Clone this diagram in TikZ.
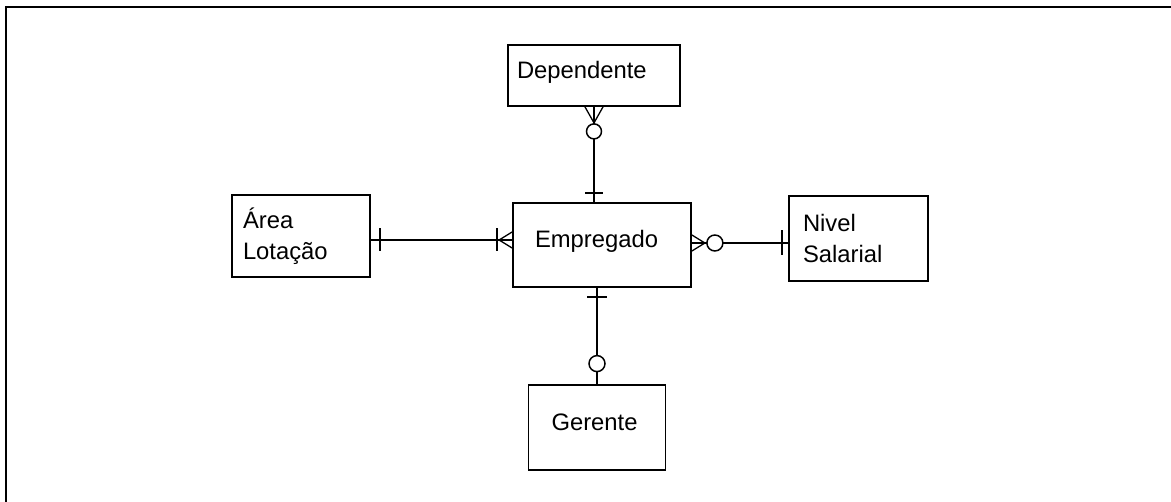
\documentclass[tikz,border=0pt]{standalone}
\usepackage{fontspec}
\setmainfont{Liberation Sans}
\usetikzlibrary{calc}
\begin{document}
\begin{tikzpicture}[x=1pt,y=-1pt,
  entity/.style={draw,line width=1.8pt,inner sep=0pt,align=left,
    font=\fontsize{23.8}{31}\selectfont},
  solo/.style={text height=14pt,text depth=8pt},
  rel/.style={line width=1.8pt},
  bar/.style={line width=1.8pt},
  foot/.style={line width=1.3pt},
  ring/.style={line width=1.5pt,fill=white}]
\useasboundingbox (0,0) rectangle (1171,502);
% page frame (top and left edges)
\draw[line width=2.6pt] (6,502) -- (6,7) -- (1171,7);

% entities
\node[entity,solo,minimum width=172pt,minimum height=61pt,text width=154pt] (dep) at (594,75.5) {Dependente};
\node[entity,solo,minimum width=178pt,minimum height=84pt,text width=134pt] (emp) at (602,245) {Empregado};
\node[entity,minimum width=138pt,minimum height=82pt,text width=116pt] (area) at (301,236) {Área\\Lotação};
\node[entity,minimum width=139pt,minimum height=85pt,text width=111pt] (nivel) at (858.5,238.5) {Nivel\\Salarial};
\node[entity,solo,minimum width=137pt,minimum height=85pt,text width=91pt] (ger) at (597,427.5) {Gerente};

% Dependente -- Empregado : zero or many / exactly one
\draw[rel] (dep.south) -- (dep.south |- emp.north) coordinate (t1);
\draw[foot] ($(dep.south)+(-9,0)$) -- ($(dep.south)+(0,16)$) -- ($(dep.south)+(9,0)$);
\draw[ring] ($(dep.south)+(0,24.5)$) circle[radius=7.5pt];
\draw[bar] ($(t1)+(-9,-9)$) -- ++(18,0);

% Empregado -- Gerente : exactly one / zero or one
\draw[rel] (ger.north) -- (ger.north |- emp.south) coordinate (b1);
\draw[bar] ($(b1)+(-10,9)$) -- ++(20,0);
\draw[ring] ($(ger.north)+(0,-20.5)$) circle[radius=8pt];

% Area Lotacao -- Empregado : exactly one / one or many
\path (area.east) ++(0,4) coordinate (l1);
\draw[rel] (l1) -- (l1 -| emp.west) coordinate (l2);
\draw[bar] ($(l1)+(9,-11.5)$) -- ++(0,23);
\draw[bar] ($(l2)+(-15,-11.5)$) -- ++(0,23);
\draw[foot] ($(l2)+(0,-8)$) -- ($(l2)+(-13,0)$) -- ($(l2)+(0,8)$);

% Empregado -- Nivel Salarial : zero or many / exactly one
\path (emp.east) ++(0,-2) coordinate (r1);
\draw[rel] (r1) -- (r1 -| nivel.west) coordinate (r2);
\draw[foot] ($(r1)+(0,-8)$) -- ($(r1)+(13,0)$) -- ($(r1)+(0,8)$);
\draw[ring] ($(r1)+(23,0)$) circle[radius=8pt];
\draw[bar] ($(r2)+(-6,-12.5)$) -- ++(0,25);
\end{tikzpicture}
\end{document}
